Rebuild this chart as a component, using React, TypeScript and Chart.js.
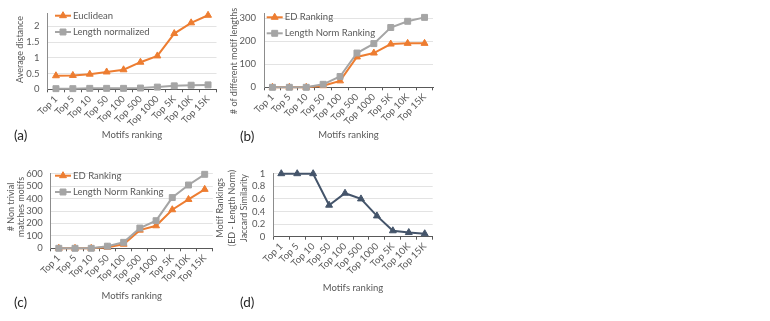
import React, { useEffect, useRef } from "react";
import { Chart, registerables } from "chart.js";

Chart.register(...registerables);

// ---------- data ----------
const categories = ["Top 1", "Top 5", "Top 10", "Top 50", "Top 100", "Top 500", "Top 1000", "Top 5K", "Top 10K", "Top 15K"];

const euclideanDistance = [0.43, 0.44, 0.48, 0.55, 0.62, 0.86, 1.06, 1.77, 2.11, 2.35];
const lengthNormalizedDistance = [0.02, 0.02, 0.03, 0.03, 0.03, 0.04, 0.07, 0.11, 0.13, 0.14];

const edMotifLengths = [0, 0, 0, 7, 28, 132, 149, 188, 191, 191];
const lnMotifLengths = [0, 0, 0, 13, 47, 149, 190, 260, 287, 304];

const edNonTrivial = [0, 0, 0, 8, 33, 146, 181, 310, 393, 474];
const lnNonTrivial = [0, 0, 0, 17, 48, 163, 222, 408, 509, 595];

const jaccardSimilarity = [1, 1, 1, 0.5, 0.69, 0.6, 0.33, 0.094, 0.066, 0.047];

const panelLetters = ["(a)", "(b)", "(c)", "(d)"];
const xAxisTitle = "Motifs ranking";

// ---------- styles ----------
const ORANGE = "#ED7D31";
const GRAY = "#A5A5A5";
const SLATE = "#44546A";
const TEXT = "#595959";
const GRID = "#E3E3E3";
const FONT = "Lato, 'Liberation Sans', sans-serif";
const FS = 9.5;
const YT_FS = 9;

type Marker = "triangle" | "rect";
interface LegendItem { text: string; color: string; marker: Marker }
interface PanelSpec {
  left: number; top: number; width: number; height: number;
  plotLeft: number; plotRight: number; plotTop: number; plotBottom: number;
  yMax: number; yStep: number;
  yTitle: string[]; yTitleX: number; yTitleY: number; yTitleGap: number;
  xTitleY: number;
  datasets: any[];
  legend?: { x: number; y: number; gap: number; len: number; items: LegendItem[] };
}

function series(label: string, data: number[], color: string, marker: Marker, order: number) {
  return {
    label,
    data,
    borderColor: color,
    backgroundColor: color,
    borderWidth: 2,
    pointStyle: marker,
    pointRadius: marker === "rect" ? 4.2 : 4,
    pointBorderWidth: 1,
    pointBackgroundColor: color,
    pointBorderColor: color,
    tension: 0,
    order,
    clip: false,
  };
}

function drawMarker(ctx: CanvasRenderingContext2D, marker: Marker, x: number, y: number, color: string) {
  ctx.fillStyle = color;
  ctx.strokeStyle = color;
  ctx.lineWidth = 1;
  ctx.beginPath();
  if (marker === "triangle") {
    const r = 4;
    ctx.moveTo(x, y - r);
    ctx.lineTo(x + r * Math.sin((2 * Math.PI) / 3), y - r * Math.cos((2 * Math.PI) / 3));
    ctx.lineTo(x - r * Math.sin((2 * Math.PI) / 3), y - r * Math.cos((2 * Math.PI) / 3));
    ctx.closePath();
  } else {
    const s = 4.2 * Math.SQRT1_2;
    ctx.rect(x - s, y - s, 2 * s, 2 * s);
  }
  ctx.fill();
  ctx.stroke();
}

function overlayPlugin(spec: PanelSpec) {
  return {
    id: "panelOverlay",
    afterDatasetsDraw(chart: any) {
      const ctx: CanvasRenderingContext2D = chart.ctx;
      ctx.save();
      ctx.textBaseline = "middle";
      // rotated y-axis title lines
      ctx.font = `${YT_FS}px ${FONT}`;
      spec.yTitle.forEach((line, i) => {
        ctx.save();
        ctx.translate(spec.yTitleX - spec.left + i * spec.yTitleGap, spec.yTitleY - spec.top);
        ctx.rotate(-Math.PI / 2);
        ctx.textAlign = "center";
        ctx.fillStyle = TEXT;
        ctx.fillText(line, 0, 0);
        ctx.restore();
      });
      // legend
      if (spec.legend) {
        const lg = spec.legend;
        lg.items.forEach((it, i) => {
          const y = lg.y - spec.top + i * lg.gap;
          const x0 = lg.x - spec.left;
          ctx.strokeStyle = it.color;
          ctx.lineWidth = 2;
          ctx.beginPath();
          ctx.moveTo(x0, y);
          ctx.lineTo(x0 + lg.len, y);
          ctx.stroke();
          drawMarker(ctx, it.marker, x0 + lg.len / 2, y, it.color);
          ctx.fillStyle = TEXT;
          ctx.textAlign = "left";
          ctx.font = `${FS}px ${FONT}`;
          ctx.fillText(it.text, x0 + lg.len + 2, y);
        });
      }
      ctx.restore();
    },
  };
}

function formatTick(v: any) {
  return String(Number(Number(v).toFixed(3)));
}

function buildConfig(spec: PanelSpec): any {
  const yWidth = spec.plotLeft - spec.left;
  const padRight = spec.left + spec.width - spec.plotRight;
  const padTop = spec.plotTop - spec.top;
  const xHeight = spec.top + spec.height - spec.plotBottom;
  const lh = FS * 1.2;
  const xTitlePad = spec.top + spec.height - spec.xTitleY - lh / 2;
  return {
    type: "line",
    data: { labels: categories, datasets: spec.datasets },
    plugins: [overlayPlugin(spec)],
    options: {
      responsive: false,
      animation: false,
      events: [],
      layout: { padding: { left: 0, top: padTop, right: padRight, bottom: 0 } },
      plugins: { legend: { display: false }, tooltip: { enabled: false } },
      scales: {
        x: {
          type: "category",
          offset: true,
          grid: { display: true, drawOnChartArea: false, drawTicks: true, tickLength: 3, color: TEXT, offset: true },
          border: { display: true, color: TEXT, width: 1 },
          ticks: { autoSkip: false, minRotation: 45, maxRotation: 45, padding: 1, color: TEXT, font: { family: FONT, size: FS } },
          title: { display: true, text: xAxisTitle, color: TEXT, font: { family: FONT, size: FS }, padding: { top: 0, bottom: xTitlePad } },
          afterFit: (s: any) => { s.height = xHeight; },
        },
        y: {
          min: 0,
          max: spec.yMax,
          grid: { color: GRID, drawTicks: false, lineWidth: 1 },
          border: { display: true, color: "#8C8C8C", width: 1 },
          ticks: {
            stepSize: spec.yStep,
            includeBounds: false,
            autoSkip: false,
            padding: 8,
            color: TEXT,
            font: { family: FONT, size: FS },
            callback: formatTick,
          },
          afterFit: (s: any) => { s.width = yWidth; },
        },
      },
    },
  };
}

const panels: PanelSpec[] = [
  {
    left: 0, top: 0, width: 222, height: 150,
    plotLeft: 47.5, plotRight: 216.5, plotTop: 10, plotBottom: 89.3,
    yMax: 2.4, yStep: 0.5,
    yTitle: ["Average distance"], yTitleX: 20, yTitleY: 49.5, yTitleGap: 0,
    xTitleY: 135,
    datasets: [
      series("Euclidean", euclideanDistance, ORANGE, "triangle", 1),
      series("Length normalized", lengthNormalizedDistance, GRAY, "rect", 0),
    ],
    legend: {
      x: 55, y: 15.7, gap: 16.3, len: 16,
      items: [
        { text: "Euclidean", color: ORANGE, marker: "triangle" },
        { text: "Length normalized", color: GRAY, marker: "rect" },
      ],
    },
  },
  {
    left: 222, top: 0, width: 218, height: 150,
    plotLeft: 264, plotRight: 433, plotTop: 11, plotBottom: 87.3,
    yMax: 320, yStep: 100,
    yTitle: ["# of different motif lengths"], yTitleX: 233.7, yTitleY: 61, yTitleGap: 0,
    xTitleY: 135,
    datasets: [
      series("ED Ranking", edMotifLengths, ORANGE, "triangle", 1),
      series("Length Norm Ranking", lnMotifLengths, GRAY, "rect", 0),
    ],
    legend: {
      x: 266.7, y: 17.3, gap: 16, len: 16,
      items: [
        { text: "ED Ranking", color: ORANGE, marker: "triangle" },
        { text: "Length Norm Ranking", color: GRAY, marker: "rect" },
      ],
    },
  },
  {
    left: 0, top: 160, width: 218, height: 150,
    plotLeft: 50.7, plotRight: 214.7, plotTop: 169, plotBottom: 248.3,
    yMax: 600, yStep: 100,
    yTitle: ["# Non trivial", "matches motifs"], yTitleX: 10.7, yTitleY: 207, yTitleGap: 10.3,
    xTitleY: 296,
    datasets: [
      series("ED Ranking", edNonTrivial, ORANGE, "triangle", 1),
      series("Length Norm Ranking", lnNonTrivial, GRAY, "rect", 0),
    ],
    legend: {
      x: 55, y: 175.7, gap: 16.3, len: 16,
      items: [
        { text: "ED Ranking", color: ORANGE, marker: "triangle" },
        { text: "Length Norm Ranking", color: GRAY, marker: "rect" },
      ],
    },
  },
  {
    left: 205, top: 160, width: 235, height: 150,
    plotLeft: 273.3, plotRight: 432.7, plotTop: 166.5, plotBottom: 236.7,
    yMax: 1, yStep: 0.2,
    yTitle: ["Motif Rankings", "(ED - Length Norm)", "Jaccard Similarity"], yTitleX: 220, yTitleY: 208, yTitleGap: 12.2,
    xTitleY: 288,
    datasets: [series("Jaccard Similarity", jaccardSimilarity, SLATE, "triangle", 0)],
  },
];

const letterPos = [
  { left: 14, cy: 135 },
  { left: 240, cy: 136 },
  { left: 14, cy: 302 },
  { left: 240, cy: 302 },
];

function PanelChart({ spec }: { spec: PanelSpec }) {
  const ref = useRef<HTMLCanvasElement>(null);
  useEffect(() => {
    const chart = new Chart(ref.current as HTMLCanvasElement, buildConfig(spec));
    return () => chart.destroy();
  }, [spec]);
  return (
    <canvas
      ref={ref}
      width={spec.width}
      height={spec.height}
      style={{ position: "absolute", left: spec.left, top: spec.top, width: spec.width, height: spec.height }}
    />
  );
}

export default function App() {
  return (
    <div style={{ position: "fixed", left: 0, top: 0, width: 770, height: 321, background: "#ffffff", overflow: "hidden" }}>
      {panels.map((p, i) => (
        <PanelChart key={i} spec={p} />
      ))}
      {panelLetters.map((t, i) => (
        <div
          key={t}
          style={{
            position: "absolute",
            left: letterPos[i].left,
            top: letterPos[i].cy - 8,
            height: 16,
            lineHeight: "16px",
            fontFamily: FONT,
            fontSize: 13.5,
            color: "#262626",
            whiteSpace: "nowrap",
          }}
        >
          {t}
        </div>
      ))}
    </div>
  );
}
